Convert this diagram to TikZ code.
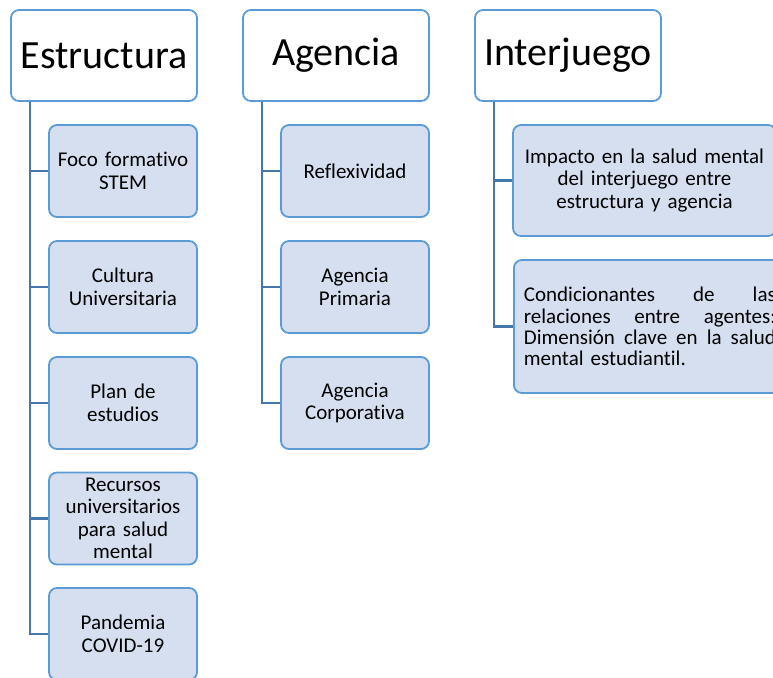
\documentclass[tikz,border=0pt]{standalone}
\usepackage{fontspec}
\setmainfont{Carlito}[Ligatures=NoCommon]
\usetikzlibrary{positioning}

\definecolor{boxline}{HTML}{5B9BD5}
\definecolor{boxfill}{HTML}{D5DFEF}
\definecolor{linkline}{HTML}{4677AA}

\newcommand{\fullline}[1]{\makebox[252pt][l]{#1}}

\begin{document}
\begin{tikzpicture}[x=1pt, y=-1pt,
  every node/.style = {align=center},
  head/.style = {draw=boxline, line width=1.8pt, fill=white, rounded corners=8pt,
    minimum width=186pt, minimum height=91pt, font=\fontsize{40}{44}\selectfont},
  item/.style = {draw=boxline, line width=1.8pt, fill=boxfill, rounded corners=8pt,
    minimum width=148pt, minimum height=92pt, text width=140pt, inner xsep=4pt,
    font=\fontsize{21}{22.5}\selectfont},
  link/.style = {draw=linkline, line width=2.5pt}]
  \useasboundingbox (0,0) rectangle (773,677);
  \clip (0,0) rectangle (773,677);

  \node[head] (estructura) at (104,55.5) {Estructura};
  \node[head] (agencia) at (336,55.5) {Agencia};
  \node[head] (interjuego) at (568,55.5) {Interjuego};

  \node[item] (foco) at (123,171) {Foco formativo\\STEM};
  \node[item] (cultura) at (123,287) {Cultura\\Universitaria};
  \node[item] (plan) at (123,403) {Plan de\\estudios};
  \node[item] (recursos) at (123,518.5) {Recursos\\universitarios\\para salud\\mental};
  \node[item] (pandemia) at (123,634) {Pandemia\\COVID-19};

  \node[item] (reflex) at (355,171) {Reflexividad};
  \node[item] (primaria) at (355,287) {Agencia\\Primaria};
  \node[item] (corporativa) at (355,403) {Agencia\\Corporativa};

  \node[item, minimum width=263pt, minimum height=111pt, text width=255pt] (impacto) at (644.5,180.5)
    {Impacto en la salud mental\\del interjuego entre\\estructura y agencia};
  \node[item, anchor=west, minimum height=133pt, text width=252pt, inner xsep=10pt,
    align=left, font=\fontsize{21}{21.2}\selectfont] (condic) at (513,326.5)
    {\fullline{Condicionantes\hfill de\hfill las}\\
     \fullline{relaciones\hfill entre\hfill agentes:}\\
     \fullline{Dimensión\hfill clave\hfill en\hfill la\hfill salud}\\
     mental estudiantil.};

  \draw[link] ([xshift=20pt]estructura.south west) |- (foco.west);
  \draw[link] ([xshift=20pt]estructura.south west) |- (cultura.west);
  \draw[link] ([xshift=20pt]estructura.south west) |- (plan.west);
  \draw[link] ([xshift=20pt]estructura.south west) |- (recursos.west);
  \draw[link] ([xshift=20pt]estructura.south west) |- (pandemia.west);

  \draw[link] ([xshift=20pt]agencia.south west) |- (reflex.west);
  \draw[link] ([xshift=20pt]agencia.south west) |- (primaria.west);
  \draw[link] ([xshift=20pt]agencia.south west) |- (corporativa.west);

  \draw[link] ([xshift=20pt]interjuego.south west) |- (impacto.west);
  \draw[link] ([xshift=20pt]interjuego.south west) |- (condic.west);
\end{tikzpicture}
\end{document}
